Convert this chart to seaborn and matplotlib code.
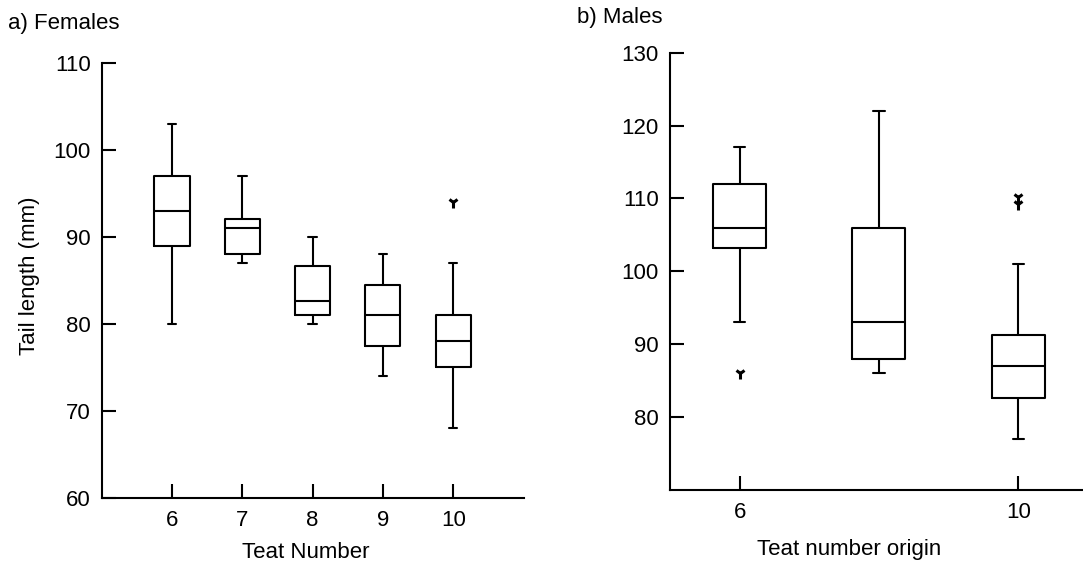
import matplotlib
matplotlib.use("Agg")
import matplotlib.pyplot as plt
import seaborn as sns
import pandas as pd

# ---- Females (panel a) : box summary ----
fem_teat = [6, 7, 8, 9, 10]
fem_whislo = [80, 87, 80, 74, 68]
fem_q1 = [89, 88, 81, 77.5, 75]
fem_med = [93, 91, 82.6, 81, 78]
fem_q3 = [97, 92, 86.6, 84.5, 81]
fem_whishi = [103, 97, 90, 88, 87]
fem_outliers = [[], [], [], [], [94]]

# ---- Males (panel b) ----
male_teat = [6, 8, 10]
male_whislo = [93, 86, 77]
male_q1 = [103.2, 88, 82.6]
male_med = [106, 93, 87]
male_q3 = [112, 106, 91.3]
male_whishi = [117, 122, 101]
male_outliers = [[86], [], [109.2, 110.2]]

fem_yticks = [60, 70, 80, 90, 100, 110]
male_yticks = [80, 90, 100, 110, 120, 130]
fem_xticks = [6, 7, 8, 9, 10]
male_xticks = [6, 10]


def build_table(teat, lo, q1, med, q3, hi, outl):
    rows = []
    for t, a, b, c, d, e, o in zip(teat, lo, q1, med, q3, hi, outl):
        vals = [a] + [b] * 4 + [c] * 4 + [d] * 4 + [e] + list(o)
        rows += [{"teat": t, "length": v} for v in vals]
    return pd.DataFrame(rows)


fem_df = build_table(fem_teat, fem_whislo, fem_q1, fem_med, fem_q3, fem_whishi, fem_outliers)
male_df = build_table(male_teat, male_whislo, male_q1, male_med, male_q3, male_whishi, male_outliers)

sns.set_style("white")
plt.rcParams["font.family"] = ["Liberation Sans", "DejaVu Sans"]
plt.rcParams["text.color"] = "black"
plt.rcParams["axes.labelcolor"] = "black"

FS = 16
W, H = 1083, 564
fig = plt.figure(figsize=(W / 100, H / 100), dpi=100)

ax1 = fig.add_axes([101.7 / W, 1 - 498 / H, (523.5 - 101.7) / W, (498 - 62.7) / H])
ax2 = fig.add_axes([670 / W, 1 - 490 / H, (1083 - 670) / W, (490 - 52.7) / H])

flier = dict(marker="1", markersize=8, markeredgewidth=2.2,
             markeredgecolor="black", markerfacecolor="black")

sns.boxplot(data=fem_df, x="teat", y="length", native_scale=True, ax=ax1,
            width=0.5, fill=False, color="black", linewidth=1.5, whis=1.5,
            flierprops=flier, capwidths=0.12)
sns.boxplot(data=male_df, x="teat", y="length", native_scale=True, ax=ax2,
            width=0.38, fill=False, color="black", linewidth=1.5, whis=1.5,
            flierprops=flier, capwidths=0.16)

ax1.set_xlim(5, 11)
ax1.set_ylim(60, 110)
ax2.set_xlim(5, 5 + 413 / 69.65)
ax2.set_ylim(70, 130)
ax1.set_yticks(fem_yticks)
ax2.set_yticks(male_yticks)
ax1.set_xticks(fem_xticks)
ax1.set_xticklabels([str(v) for v in fem_xticks])
ax2.set_xticks(male_xticks)
ax2.set_xticklabels([str(v) for v in male_xticks])

for ax in (ax1, ax2):
    for s in ("top", "right"):
        ax.spines[s].set_visible(False)
    for s in ("left", "bottom"):
        ax.spines[s].set_linewidth(1.5)
        ax.spines[s].set_color("black")
    ax.tick_params(axis="both", which="major", direction="in", length=10, width=1.5,
                   colors="black", labelcolor="black", labelsize=FS,
                   bottom=True, left=True, top=False, right=False)
    ax.tick_params(axis="y", pad=8)
    ax.tick_params(axis="x", pad=9)
    ax.set_facecolor("white")
    ax.grid(False)

ax1.set_xlabel("Teat Number", fontsize=FS, va="center", color="black")
ax1.xaxis.set_label_coords(306 / W, 1 - 553 / H, transform=fig.transFigure)
ax1.set_ylabel("Tail length (mm)", fontsize=FS, va="center", color="black")
ax1.yaxis.set_label_coords(30 / W, 1 - 276 / H, transform=fig.transFigure)

ax2.set_xlabel("Teat number origin", fontsize=FS, va="center", color="black")
ax2.xaxis.set_label_coords(849.5 / W, 1 - 549 / H, transform=fig.transFigure)
ax2.set_ylabel("")

fig.text(8 / W, 1 - 23 / H, "a) Females", fontsize=FS, ha="left", va="center", color="black")
fig.text(577 / W, 1 - 17 / H, "b) Males", fontsize=FS, ha="left", va="center", color="black")

fig.savefig("out.png", dpi=100, facecolor="white")
